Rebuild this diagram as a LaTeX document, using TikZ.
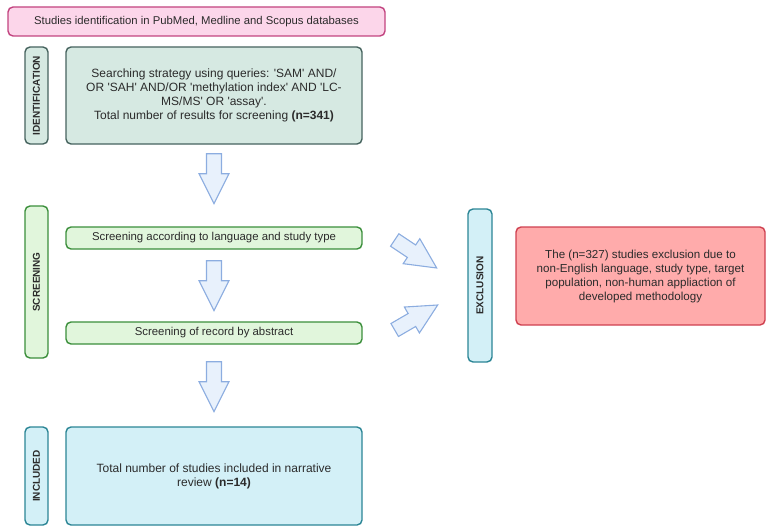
\documentclass[tikz,border=0pt]{standalone}
\usepackage{fontspec}
\setmainfont{Liberation Sans}
\usetikzlibrary{calc}
\definecolor{txt}{HTML}{2B2B2B}
\definecolor{pinkfill}{HTML}{FCD6EA}
\definecolor{pinkdraw}{HTML}{C2437F}
\definecolor{idfill}{HTML}{D6E9E2}
\definecolor{iddraw}{HTML}{46635E}
\definecolor{scfill}{HTML}{E1F6DC}
\definecolor{scdraw}{HTML}{3B8F3B}
\definecolor{infill}{HTML}{D3F0F7}
\definecolor{indraw}{HTML}{2B8595}
\definecolor{redfill}{HTML}{FFABAB}
\definecolor{reddraw}{HTML}{CF4050}
\definecolor{arfill}{HTML}{E8F1FC}
\definecolor{ardraw}{HTML}{8CADE0}
\newcommand\blockarrow[2]{%
  \coordinate (#1n) at ($(#1)!0.4!(#2)$);
  \draw[arrowbox] ($(#1)!7.5pt!90:(#2)$) -- ($(#1n)!7.5pt!90:(#2)$) -- ($(#1n)!15pt!90:(#2)$) -- (#2)
    -- ($(#1n)!15pt!-90:(#2)$) -- ($(#1n)!7.5pt!-90:(#2)$) -- ($(#1)!7.5pt!-90:(#2)$) -- cycle;}
\begin{document}
\begin{tikzpicture}[x=1pt,y=-1pt,
  box/.style={rounded corners=5pt, line width=1.4pt, text=txt, align=center, inner sep=0pt},
  lab/.style={box, rotate=90, font=\fontsize{10}{12}\selectfont\bfseries},
  arrowbox/.style={fill=arfill, draw=ardraw, line width=1.1pt, line join=miter}]
\useasboundingbox (0,0) rectangle (770,532);
\node[box, fill=pinkfill, draw=pinkdraw, minimum width=377, minimum height=29,
  font=\fontsize{11.3}{13}\selectfont] (top) at (196.5,21.5)
  {Studies identification in PubMed, Medline and Scopus databases};
\node[lab, fill=idfill, draw=iddraw, minimum width=97, minimum height=23] (idl) at (36.5,95.5) {IDENTIFICATION};
\node[box, fill=idfill, draw=iddraw, minimum width=296, minimum height=97,
  font=\fontsize{12}{14}\selectfont] (ident) at (214,95.5)
  {Searching strategy using queries: \textquotesingle SAM\textquotesingle\ AND/\\
   OR \textquotesingle SAH\textquotesingle\ AND/OR \textquotesingle methylation index\textquotesingle\ AND \textquotesingle LC-\\
   MS/MS\textquotesingle\ OR \textquotesingle assay\textquotesingle.\\
   Total number of results for screening \textbf{(n=341)}};
\node[lab, fill=scfill, draw=scdraw, minimum width=152, minimum height=23] (scl) at (36.5,282) {SCREENING};
\node[box, fill=scfill, draw=scdraw, minimum width=296, minimum height=22,
  font=\fontsize{11.4}{13}\selectfont] (s1) at (214,238)
  {Screening according to language and study type};
\node[box, fill=scfill, draw=scdraw, minimum width=296, minimum height=22,
  font=\fontsize{11.4}{13}\selectfont] (s2) at (214,333)
  {Screening of record by abstract};
\node[lab, fill=infill, draw=indraw, minimum width=98, minimum height=23] (inl) at (36.5,476) {INCLUDED};
\node[box, fill=infill, draw=indraw, minimum width=296, minimum height=98,
  font=\fontsize{12}{14}\selectfont] (incl) at (214,476)
  {Total number of studies included in narrative\\ review \textbf{(n=14)}};
\node[lab, fill=infill, draw=indraw, minimum width=153, minimum height=24] (excl) at (480,285.5) {EXCLUSION};
\node[box, fill=redfill, draw=reddraw, minimum width=249, minimum height=98,
  font=\fontsize{11.6}{14}\selectfont] (red) at (640.5,276)
  {The (n=327) studies exclusion due to\\ non-English language, study type, target\\
   population, non-human appliaction of\\ developed methodology};
\coordinate (a1) at ($(ident.south)+(0,9)$);
\coordinate (a1e) at ($(ident.south)+(0,59)$);
\coordinate (a2) at ($(s1.south)+(0,11)$);
\coordinate (a2e) at ($(s1.south)+(0,61)$);
\coordinate (a3) at ($(s2.south)+(0,17)$);
\coordinate (a3e) at ($(s2.south)+(0,67)$);
\coordinate (a4) at ($(s1.east)+(32,2)$);
\coordinate (a4e) at ($(s1.east)+(74,30)$);
\coordinate (a5) at ($(s2.east)+(32,-3)$);
\coordinate (a5e) at ($(s2.east)+(75,-28)$);
\blockarrow{a1}{a1e}
\blockarrow{a2}{a2e}
\blockarrow{a3}{a3e}
\blockarrow{a4}{a4e}
\blockarrow{a5}{a5e}
\end{tikzpicture}
\end{document}
